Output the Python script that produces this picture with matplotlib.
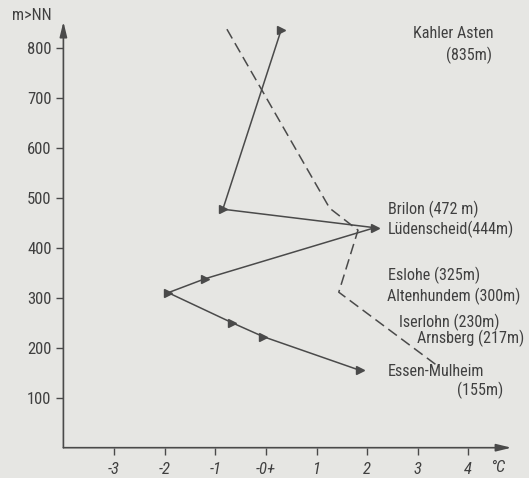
import matplotlib
matplotlib.use("Agg")
import matplotlib.pyplot as plt
from matplotlib import font_manager

# ---- data ----
stations = ["Kahler Asten", "Brilon", "Lüdenscheid", "Eslohe", "Altenhundem",
            "Iserlohn", "Arnsberg", "Essen-Mulheim"]
station_heights = [835, 477, 440, 338, 310, 250, 222, 155]
station_temps = [0.3, -0.85, 2.15, -1.2, -1.93, -0.67, -0.05, 1.85]

dashed_temps = [-0.77, 1.26, 1.82, 1.44, 3.4]
dashed_heights = [837, 479, 435, 311, 163]

x_ticks = [-3, -2, -1, 0, 1, 2, 3, 4]
x_ticklabels = ["-3", "-2", "-1", "-0+", "1", "2", "3", "4"]
y_ticks = [100, 200, 300, 400, 500, 600, 700, 800]

label_texts = ["Kahler Asten", "(835m)", "Brilon (472 m)", "Lüdenscheid(444m)",
               "Eslohe (325m)", "Altenhundem (300m)", "Iserlohn (230m)",
               "Arnsberg (217m)", "Essen-Mulheim", "(155m)"]

# ---- font choice ----
names = {f.name for f in font_manager.fontManager.ttflist}
stretch = "normal"
fam = ["DejaVu Sans"]
for cand in ["Liberation Sans Narrow", "Roboto Condensed", "Open Sans Condensed"]:
    if cand in names:
        fam = [cand, "DejaVu Sans"]
        break
else:
    path = font_manager.findfont(font_manager.FontProperties(family="DejaVu Sans", stretch="condensed"))
    if "ondensed" in path:
        stretch = "condensed"
plt.rcParams['font.family'] = fam
plt.rcParams['font.stretch'] = stretch

bg = "#e6e6e3"
ink = "#4a4a4a"
tcol = "#404040"

fig = plt.figure(figsize=(5.29, 4.78), dpi=100, facecolor=bg)
ax = fig.add_axes([63.4 / 529, (478 - 447.7) / 478, 448 / 529, 430 / 478])
ax.set_facecolor(bg)
ax.set_xlim(-4, 4.85)
ax.set_ylim(0, 860)
for s in ax.spines.values():
    s.set_visible(False)

# axes with arrows
ax.annotate("", xy=(4.85, 0), xytext=(-4, 0),
            arrowprops=dict(arrowstyle="-|>,head_length=0.9,head_width=0.22",
                            lw=1.2, color=ink, shrinkA=0, shrinkB=0),
            annotation_clip=False)
ax.annotate("", xy=(-4, 852), xytext=(-4, 0),
            arrowprops=dict(arrowstyle="-|>,head_length=0.9,head_width=0.22",
                            lw=1.2, color=ink, shrinkA=0, shrinkB=0),
            annotation_clip=False)

# measure font width to fit the reference's narrow lettering
renderer = fig.canvas.get_renderer()
probe = fig.text(0, 0, "Altenhundem (300m)", fontsize=12)
w = probe.get_window_extent(renderer).width
probe.remove()
scale = min(1.0, 134.0 / w)
fs = 12 * scale
tfs = 12 if fam[0] != "DejaVu Sans" or stretch == "condensed" else 10.5

ax.set_xticks(x_ticks)
ax.set_xticklabels(x_ticklabels, fontstyle="italic")
ax.set_yticks(y_ticks)
ax.tick_params(axis="both", direction="out", length=5, width=1, color=ink,
               labelcolor=tcol, labelsize=tfs)
ax.tick_params(axis="y", pad=3.5)
ax.tick_params(axis="x", pad=5)

# dashed line
ax.plot(dashed_temps, dashed_heights, color=ink, lw=1.1,
        linestyle=(0, (7, 3.5)))
# solid line with triangle markers
ax.plot(station_temps, station_heights, color=ink, lw=1.1,
        marker=">", markersize=6, markerfacecolor=ink, markeredgecolor=ink)

# labels
ax.text(4.5, 829, label_texts[0], ha="right", va="center", fontsize=fs, color=tcol)
ax.text(4.47, 785, label_texts[1], ha="right", va="center", fontsize=fs, color=tcol)
ax.text(2.41, 477, label_texts[2], ha="left", va="center", fontsize=fs, color=tcol)
ax.text(2.41, 437, label_texts[3], ha="left", va="center", fontsize=fs, color=tcol)
ax.text(2.41, 345, label_texts[4], ha="left", va="center", fontsize=fs, color=tcol)
ax.text(2.39, 303, label_texts[5], ha="left", va="center", fontsize=fs, color=tcol)
ax.text(2.63, 251, label_texts[6], ha="left", va="center", fontsize=fs, color=tcol)
ax.text(2.98, 219, label_texts[7], ha="left", va="center", fontsize=fs, color=tcol)
ax.text(2.41, 153, label_texts[8], ha="left", va="center", fontsize=fs, color=tcol)
ax.text(3.77, 115, label_texts[9], ha="left", va="center", fontsize=fs, color=tcol)

# axis unit labels
fig.text(12 / 529, 1 - 16 / 478, "m>NN", ha="left", va="center", fontsize=min(12, fs), color=tcol)
fig.text(498 / 529, 1 - 468 / 478, "°C", ha="center", va="center", fontsize=tfs,
         color=tcol, fontstyle="italic")

fig.savefig("out.png", dpi=100, facecolor=bg)
